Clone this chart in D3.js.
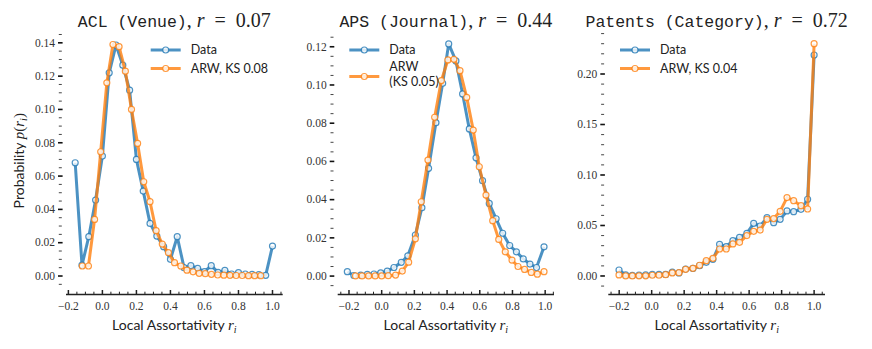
<!DOCTYPE html>
<html>
<head>
<meta charset="utf-8">
<script src="https://cdn.jsdelivr.net/npm/d3@7"></script>
<style>
  body { margin: 0; background: #fff; }
  svg text { fill: #222; }
</style>
</head>
<body>
<svg id="chart" width="872" height="349"></svg>
<script>
// --- values ---
const titles = ['ACL (Venue)', 'APS (Journal)', 'Patents (Category)'];
const rValues = ['0.07', '0.44', '0.72'];
const dataLabel = 'Data';
const arwLabels = [['ARW, KS 0.08'], ['ARW', '(KS 0.05)'], ['ARW, KS 0.04']];
const xLabel = 'Local Assortativity ';
const yLabel = 'Probability ';

// ACL (Venue)
const aclDataX = [-0.16, -0.12, -0.08, -0.04, 0.00, 0.04, 0.08, 0.12, 0.16, 0.20, 0.24, 0.28, 0.32, 0.36, 0.40,
  0.44, 0.48, 0.52, 0.56, 0.60, 0.64, 0.68, 0.72, 0.76, 0.80, 0.84, 0.88, 0.92, 0.96, 1.00];
const aclDataY = [0.068, 0.0065, 0.0236, 0.0456, 0.072, 0.122, 0.1387, 0.1266, 0.1116, 0.070, 0.051, 0.0316, 0.024, 0.0176, 0.010,
  0.0236, 0.005, 0.0062, 0.0046, 0.0026, 0.0062, 0.0022, 0.0034, 0.0012, 0.002, 0.0012, 0.001, 0.0008, 0.0004, 0.018];
const aclArwX = [-0.118, -0.082, -0.046, -0.010, 0.026, 0.062, 0.098, 0.135, 0.171, 0.207, 0.243, 0.280, 0.316, 0.352, 0.388,
  0.424, 0.461, 0.497, 0.533, 0.569, 0.605, 0.641, 0.678, 0.714, 0.750, 0.786, 0.822, 0.859, 0.895, 0.931];
const aclArwY = [0.006, 0.006, 0.034, 0.0746, 0.116, 0.139, 0.1377, 0.123, 0.100, 0.0796, 0.0566, 0.0446, 0.0272, 0.0192, 0.014,
  0.008, 0.006, 0.0035, 0.0025, 0.0016, 0.0014, 0.0010, 0.0006, 0.0005, 0.0004, 0.0003, 0.0003, 0.0002, 0.0002, 0.0002];

// APS (Journal)
const apsDataX = [-0.210, -0.170, -0.128, -0.088, -0.047, -0.006, 0.034, 0.075, 0.120, 0.160, 0.206, 0.246, 0.287, 0.332, 0.373,
  0.410, 0.454, 0.495, 0.536, 0.577, 0.617, 0.658, 0.700, 0.740, 0.783, 0.824, 0.866, 0.907, 0.947, 0.993];
const apsDataY = [0.0023, 0.0003, 0.0005, 0.0009, 0.0011, 0.0017, 0.0026, 0.0045, 0.0072, 0.0106, 0.0215, 0.0358, 0.0564, 0.0803, 0.1009,
  0.1215, 0.1126, 0.0953, 0.077, 0.0619, 0.0499, 0.038, 0.030, 0.0224, 0.016, 0.0127, 0.009, 0.0063, 0.0045, 0.0153];
const apsArwX = [-0.160, -0.120, -0.080, -0.040, 0.000, 0.040, 0.085, 0.126, 0.165, 0.206, 0.242, 0.283, 0.324, 0.365, 0.405,
  0.442, 0.479, 0.520, 0.560, 0.597, 0.638, 0.679, 0.716, 0.756, 0.797, 0.834, 0.874, 0.915, 0.952, 0.993];
const apsArwY = [0.0001, 0.0001, 0.0001, 0.0001, 0.0001, 0.0002, 0.0005, 0.0026, 0.0073, 0.0195, 0.0389, 0.0607, 0.0831, 0.1023, 0.1131,
  0.1134, 0.1075, 0.0935, 0.0764, 0.0572, 0.0424, 0.029, 0.0192, 0.0127, 0.0084, 0.005, 0.0035, 0.0019, 0.001, 0.0023];

// Patents (Category)
const patDataX = [-0.201, -0.160, -0.119, -0.078, -0.037, 0.004, 0.045, 0.086, 0.127, 0.168, 0.209, 0.254, 0.295, 0.336, 0.377,
  0.418, 0.459, 0.500, 0.541, 0.586, 0.628, 0.668, 0.710, 0.751, 0.791, 0.833, 0.874, 0.919, 0.960, 1.000];
const patDataY = [0.0059, 0.001, 0.0005, 0.0008, 0.001, 0.0015, 0.0015, 0.0015, 0.0038, 0.003, 0.0068, 0.0075, 0.0102, 0.0135, 0.0165,
  0.0313, 0.029, 0.035, 0.0383, 0.0422, 0.0521, 0.0495, 0.0578, 0.0528, 0.0561, 0.0644, 0.0637, 0.066, 0.076, 0.2188];
const patArwX = [-0.201, -0.160, -0.119, -0.078, -0.037, 0.004, 0.045, 0.086, 0.127, 0.168, 0.209, 0.254, 0.295, 0.336, 0.377,
  0.418, 0.459, 0.500, 0.541, 0.586, 0.628, 0.668, 0.710, 0.751, 0.791, 0.833, 0.874, 0.919, 0.960, 1.000];
const patArwY = [0.001, 0.0001, 0.0001, 0.0002, 0.0002, 0.0007, 0.0007, 0.0013, 0.003, 0.0033, 0.0066, 0.0076, 0.0106, 0.0152, 0.0175,
  0.0267, 0.0267, 0.0317, 0.0333, 0.040, 0.0442, 0.0455, 0.0561, 0.0568, 0.064, 0.0776, 0.0746, 0.0696, 0.0663, 0.230];

const seriesX = [[aclDataX, aclArwX], [apsDataX, apsArwX], [patDataX, patArwX]];
const seriesY = [[aclDataY, aclArwY], [apsDataY, apsArwY], [patDataY, patArwY]];

// --- layout ---
const colors = ['#1f77b4', '#ff7f0e'];
const plotTop = 33, plotBottom = 288.5, spineOffset = 6;
const layout = [
  { left: 66,    right: 282.7, xDom: [-0.214, 1.060], yDom: [-0.0075, 0.1459], yMajor: 0.02, yMinor: 0.005, legendX: 150.7 },
  { left: 337.7, right: 554,   xDom: [-0.269, 1.054], yDom: [-0.0065, 0.1272], yMajor: 0.02, yMinor: 0.005, legendX: 349.3 },
  { left: 608.3, right: 825,   xDom: [-0.267, 1.067], yDom: [-0.0124, 0.2406], yMajor: 0.05, yMinor: 0.01,  legendX: 620 }
];

const serif = "'Liberation Serif', 'DejaVu Serif', serif";
const sans = "Lato, 'Open Sans', sans-serif";
const mono = "'Liberation Mono', 'DejaVu Sans Mono', monospace";

const svg = d3.select('#chart');

// minor/major tick positions inside a domain
function tickValues(dom, step, major) {
  const out = [];
  for (let k = Math.ceil(dom[0] / step - 1e-9); k * step <= dom[1] + 1e-9; k++) {
    const v = +(k * step).toFixed(4);
    const r = v / major;
    out.push({ v, major: Math.abs(r - Math.round(r)) < 1e-6 });
  }
  return out;
}

layout.forEach((p, i) => {
  const x = d3.scaleLinear().domain(p.xDom).range([p.left, p.right]);
  const y = d3.scaleLinear().domain(p.yDom).range([plotBottom, plotTop]);
  const g = svg.append('g');
  const cx = (p.left + p.right) / 2;

  // bottom spine, offset down, ticks pointing in
  const spineY = plotBottom + spineOffset;
  g.append('line').attr('x1', p.left).attr('x2', p.right)
    .attr('y1', spineY).attr('y2', spineY)
    .attr('stroke', '#222').attr('stroke-width', 1.3);
  tickValues(p.xDom, 0.05, 0.2).forEach(t => {
    g.append('line').attr('x1', x(t.v)).attr('x2', x(t.v))
      .attr('y1', spineY).attr('y2', spineY - (t.major ? 4.5 : 2.8))
      .attr('stroke', '#222').attr('stroke-width', t.major ? 1.5 : 1);
    if (t.major) {
      g.append('text').attr('x', x(t.v)).attr('y', spineY + 15)
        .attr('text-anchor', 'middle').attr('font-family', serif).attr('font-size', 11.5)
        .style('fill', '#333')
        .text(d3.format('.1f')(t.v));
    }
  });

  // left ticks only (spine hidden), offset left
  const tickX = p.left - spineOffset;
  tickValues(p.yDom, p.yMinor, p.yMajor).forEach(t => {
    g.append('line').attr('x1', tickX - (t.major ? 2 : 1.2)).attr('x2', tickX + (t.major ? 2.6 : 1.8))
      .attr('y1', y(t.v)).attr('y2', y(t.v))
      .attr('stroke', t.major ? '#111' : '#444').attr('stroke-width', t.major ? 1.6 : 1);
    if (t.major) {
      g.append('text').attr('x', tickX - 5).attr('y', y(t.v) + 3.8)
        .attr('text-anchor', 'end').attr('font-family', serif).attr('font-size', 11.5)
        .style('fill', '#333')
        .text(d3.format('.2f')(t.v));
    }
  });

  // series: data first, ARW on top
  [0, 1].forEach(s => {
    const pts = seriesX[i][s].map((xv, k) => [xv, seriesY[i][s][k]]);
    g.append('path').datum(pts)
      .attr('d', d3.line().x(d => x(d[0])).y(d => y(d[1])))
      .attr('fill', 'none').attr('stroke', colors[s]).attr('stroke-opacity', 0.8)
      .attr('stroke-width', 3).attr('stroke-linejoin', 'round');
    g.append('g').selectAll('circle').data(pts).join('circle')
      .attr('cx', d => x(d[0])).attr('cy', d => y(d[1])).attr('r', 3)
      .attr('fill', '#fff').attr('fill-opacity', 0.8)
      .attr('stroke', colors[s]).attr('stroke-opacity', 0.8).attr('stroke-width', 1.2);
  });

  // legend
  const lx = p.legendX;
  const twoLine = arwLabels[i].length > 1;
  const rows = [
    { y: 50, lines: [dataLabel], handleY: 50 },
    { y: twoLine ? 67 : 68.5, lines: arwLabels[i], handleY: twoLine ? 76.5 : 68.5 }
  ];
  rows.forEach((row, s) => {
    g.append('line').attr('x1', lx).attr('x2', lx + 30).attr('y1', row.handleY).attr('y2', row.handleY)
      .attr('stroke', colors[s]).attr('stroke-opacity', 0.8).attr('stroke-width', 3);
    g.append('circle').attr('cx', lx + 15).attr('cy', row.handleY).attr('r', 3)
      .attr('fill', '#fff').attr('fill-opacity', 0.8)
      .attr('stroke', colors[s]).attr('stroke-opacity', 0.8).attr('stroke-width', 1.2);
    row.lines.forEach((txt, k) => {
      g.append('text').attr('x', lx + 40).attr('y', row.y + 4.3 + k * 15)
        .attr('font-family', sans).attr('font-size', 12.5).text(txt);
    });
  });

  // title: typewriter name, then math part
  const title = g.append('text').attr('x', cx).attr('y', 27).attr('text-anchor', 'middle');
  title.append('tspan').attr('font-family', mono).attr('font-size', 16.5).text(titles[i]);
  title.append('tspan').attr('font-family', serif).attr('font-size', 20).text(', ');
  title.append('tspan').attr('font-family', serif).attr('font-size', 20).attr('font-style', 'italic').text('r');
  title.append('tspan').attr('font-family', serif).attr('font-size', 20).text('\u2002=\u2002' + rValues[i]);

  // x label
  const xl = g.append('text').attr('x', cx).attr('y', 330).attr('text-anchor', 'middle');
  xl.append('tspan').attr('font-family', sans).attr('font-size', 14).text(xLabel);
  xl.append('tspan').attr('font-family', serif).attr('font-size', 15).attr('font-style', 'italic').text('r');
  xl.append('tspan').attr('font-family', serif).attr('font-size', 10).attr('font-style', 'italic').attr('dy', 3).text('i');

  // y label (first panel only)
  if (i === 0) {
    const yl = g.append('text').attr('transform', `translate(24,${(plotTop + plotBottom) / 2}) rotate(-90)`)
      .attr('text-anchor', 'middle');
    yl.append('tspan').attr('font-family', sans).attr('font-size', 14).text(yLabel);
    yl.append('tspan').attr('font-family', serif).attr('font-size', 15).attr('font-style', 'italic').text('p');
    yl.append('tspan').attr('font-family', serif).attr('font-size', 15).text('(');
    yl.append('tspan').attr('font-family', serif).attr('font-size', 15).attr('font-style', 'italic').text('r');
    yl.append('tspan').attr('font-family', serif).attr('font-size', 10).attr('font-style', 'italic').attr('dy', 3).text('i');
    yl.append('tspan').attr('font-family', serif).attr('font-size', 15).attr('dy', -3).text(')');
  }
});
</script>
</body>
</html>
